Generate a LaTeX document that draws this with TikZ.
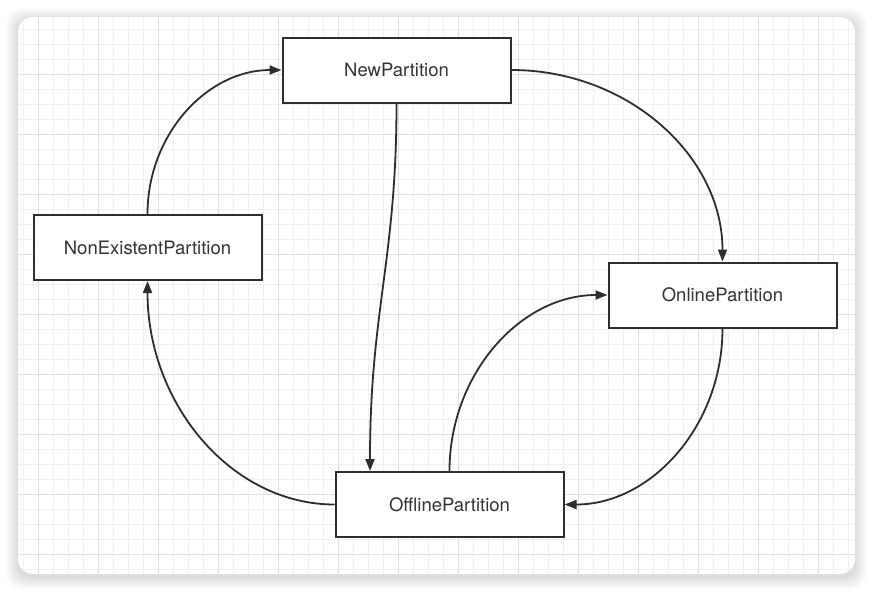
\documentclass[tikz,border=0pt]{standalone}
\usepackage{fontspec}
\setmainfont{TeX Gyre Heros}
\usetikzlibrary{arrows.meta,calc,positioning}

\begin{document}
\begin{tikzpicture}[x=1pt,y=-1pt,
		state/.style={draw=black!82,line width=2pt,fill=white,minimum width=228pt,minimum height=65pt,inner sep=0pt,text=black!80,font=\fontsize{18.5}{22}\selectfont},
		trans/.style={draw=black!82,line width=1.8pt,-{Triangle[length=12pt,width=9pt]}},
		minor/.style={draw=black!6,line width=1pt},
		major/.style={draw=black!12,line width=1pt}]
		\useasboundingbox (0,0) rectangle (873,592);
		
		\foreach \s in {1,...,12}
			\fill[black,opacity=0.012,rounded corners=16pt] (18-\s,17-\s+3) rectangle (855+\s,574+\s+3);
		\fill[white,rounded corners=15pt] (18,17) rectangle (855,574);
		
		\begin{scope}
			\clip[rounded corners=15pt] (18,17) rectangle (855,574);
			\foreach \x in {23,38,...,848} \draw[minor] (\x,17) -- (\x,574);
			\foreach \y in {29,44,...,569} \draw[minor] (18,\y) -- (855,\y);
			\foreach \x in {38,98,...,818} \draw[major] (\x,17) -- (\x,574);
			\foreach \y in {74,134,...,554} \draw[major] (18,\y) -- (855,\y);
		\end{scope}
		
		\node[state] (new) at (396.5,70) {NewPartition};
		\node[state] (nonex) at (147.5,247.5) {NonExistentPartition};
		\node[state] (online) at (722.5,295) {OnlinePartition};
		\node[state] (offline) at (449.5,504.5) {OfflinePartition};
		
		\draw[trans] (nonex.north) .. controls +(0,-80) and +(-74,0) .. (new.west);
		\draw[trans] (new.east) .. controls +(116,0) and +(0,-106) .. (online.north);
		\draw[trans] (new.south) .. controls +(0,157) and +(0,-161) .. ([xshift=-79.5pt]offline.north);
		\draw[trans] (offline.west) .. controls +(-103,0) and +(0,123) .. (nonex.south);
		\draw[trans] (offline.north) .. controls +(0,-97) and +(-87,0) .. (online.west);
		\draw[trans] (online.south) .. controls +(0,97) and +(87,0) .. (offline.east);
\end{tikzpicture}
\end{document}
